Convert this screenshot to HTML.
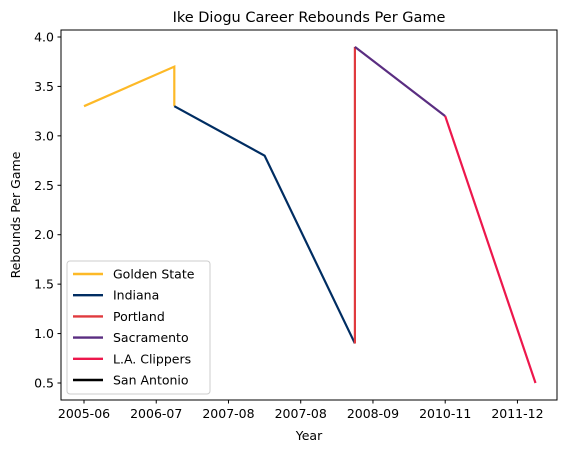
<!DOCTYPE html>
<html><head><meta charset="utf-8"><style>
body{margin:0;background:#fff;font-family:"Liberation Sans","DejaVu Sans",sans-serif}
text{font-family:"DejaVu Sans","Liberation Sans",sans-serif;fill:#000}
</style></head><body>
<svg id="chart" width="570" height="453" xmlns="http://www.w3.org/2000/svg">
<text x="309" y="22" font-size="14.5" text-anchor="middle">Ike Diogu Career Rebounds Per Game</text>
<rect x="61" y="30" width="496" height="370" fill="none" stroke="#000" stroke-width="1"/>
<g id="ticks"></g><g id="lines"></g>
<text x="309" y="440" font-size="12.5" text-anchor="middle">Year</text>
<text transform="translate(20,215) rotate(-90)" font-size="12.5" text-anchor="middle">Rebounds Per Game</text>
<g>
<rect x="67" y="261" width="143" height="133" rx="3" fill="#fff" fill-opacity="0.8" stroke="#ccc"/>
<g id="legend"></g>
</g>
</svg>
<script>
const xTickVals=[0,0.8,1.6,2.4,3.2,4.0,4.8];
const xTickLabels=["2005-06","2006-07","2007-08","2007-08","2008-09","2010-11","2011-12"];
const yTicks=[0.5,1.0,1.5,2.0,2.5,3.0,3.5,4.0];
const teams=["Golden State","Indiana","Portland","Sacramento","L.A. Clippers","San Antonio"];
const colors=["#FDB927","#002D62","#E03A3E","#5A2D81","#ED174C","#000000"];
const seriesX=[[0,1,1],[1,2,3],[3,3],[3,4],[4,5],[]];
const seriesY=[[3.3,3.7,3.3],[3.3,2.8,0.9],[0.9,3.9],[3.9,3.2],[3.2,0.5],[]];
const ns="http://www.w3.org/2000/svg";
const xs=v=>84+v*90.3;
const ys=v=>383-(v-0.5)*98.86;
const ticks=document.getElementById('ticks');
function mk(tag,attrs,parent,txt){const e=document.createElementNS(ns,tag);for(const k in attrs)e.setAttribute(k,attrs[k]);if(txt!==undefined)e.textContent=txt;parent.appendChild(e);return e;}
xTickVals.forEach((v,i)=>{
 const l=mk('line',{x1:xs(v),x2:xs(v),y1:400,y2:403.5,stroke:'#000'},ticks);
 
 
 const t=mk('text',{x:xs(v),y:418,'font-size':12.5,'text-anchor':'middle'},ticks,xTickLabels[i]);
 
 
});
yTicks.forEach(v=>{
 const l=mk('line',{x1:57.5,x2:61,y1:ys(v),y2:ys(v),stroke:'#000'},ticks);
 
 
 const t=mk('text',{x:54,y:ys(v)+4.5,'font-size':12.5,'text-anchor':'end'},ticks,v.toFixed(1));
 
 
});
const lines=document.getElementById('lines');
teams.forEach((tm,i)=>{
 if(!seriesX[i].length)return;
 const p=mk('polyline',{points:seriesX[i].map((x,j)=>xs(x)+','+ys(seriesY[i][j])).join(' '),fill:'none',stroke:colors[i],'stroke-width':2.2},lines);
 
 
});
const lg=document.getElementById('legend');
teams.forEach((tm,i)=>{
 const y=274+i*21.2;
 const l=mk('line',{x1:73,x2:103,y1:y,y2:y,stroke:colors[i],'stroke-width':2.4},lg);
 
 
 const t=mk('text',{x:113,y:y+4.5,'font-size':12.5},lg,tm);
 
 
});
</script>
</body></html>
